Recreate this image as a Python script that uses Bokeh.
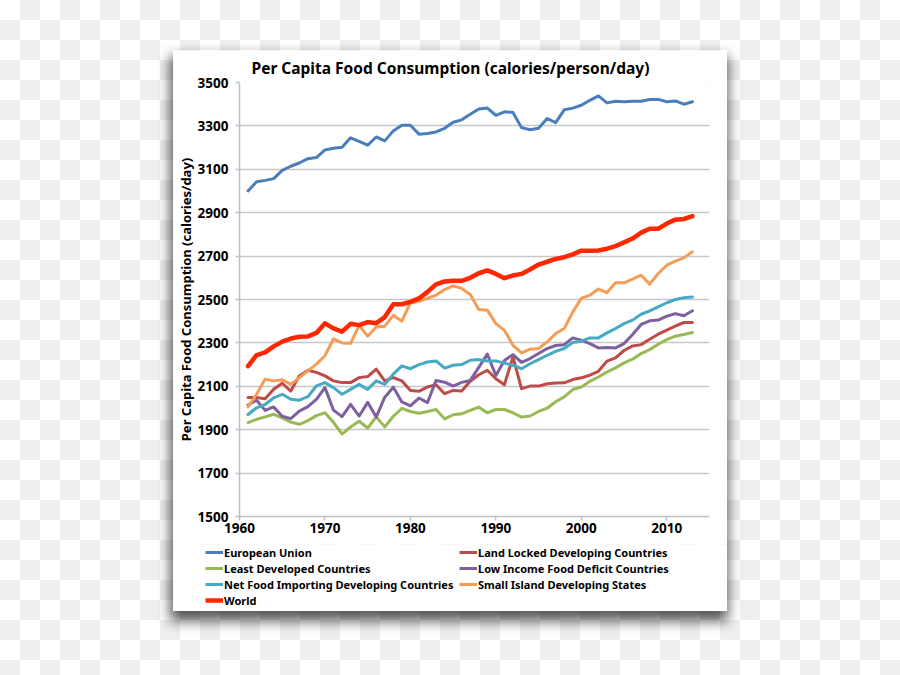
from bokeh.plotting import figure
from bokeh.models import Legend, LegendItem, FixedTicker, Range1d
from bokeh.layouts import column
from bokeh.embed import file_html
from bokeh.resources import INLINE

years = list(range(1961, 2014))

european_union = [3000, 3043, 3049, 3057, 3095, 3114, 3129, 3149, 3154, 3189,
                  3197, 3202, 3245, 3229, 3211, 3249, 3231, 3277, 3303, 3303,
                  3262, 3265, 3272, 3289, 3317, 3328, 3354, 3378, 3382, 3349,
                  3365, 3362, 3292, 3282, 3289, 3334, 3315, 3374, 3382, 3395,
                  3418, 3438, 3406, 3414, 3411, 3414, 3414, 3422, 3422, 3411,
                  3415, 3400, 3411]
land_locked = [2048, 2048, 2043, 2086, 2114, 2078, 2148, 2174, 2164, 2148,
               2125, 2117, 2117, 2140, 2145, 2179, 2125, 2140, 2125, 2081,
               2077, 2097, 2107, 2066, 2081, 2078, 2123, 2153, 2174, 2135,
               2107, 2235, 2089, 2101, 2101, 2112, 2115, 2116, 2131, 2139,
               2151, 2169, 2216, 2231, 2265, 2286, 2292, 2317, 2340, 2359,
               2377, 2394, 2394]
least_developed = [1933, 1948, 1959, 1971, 1954, 1935, 1925, 1942, 1965, 1978,
                   1934, 1880, 1913, 1939, 1908, 1959, 1913, 1962, 1998, 1984,
                   1976, 1984, 1993, 1950, 1969, 1973, 1989, 2004, 1978, 1993,
                   1993, 1978, 1958, 1963, 1984, 1999, 2029, 2051, 2085, 2097,
                   2123, 2143, 2166, 2185, 2208, 2225, 2251, 2269, 2294, 2315,
                   2331, 2339, 2348]
low_income = [2014, 2036, 1989, 2005, 1962, 1951, 1986, 2006, 2040, 2094,
              1990, 1960, 2017, 1963, 2026, 1958, 2050, 2096, 2028, 2010,
              2046, 2025, 2127, 2119, 2101, 2118, 2127, 2187, 2248, 2150,
              2219, 2246, 2210, 2228, 2251, 2274, 2288, 2292, 2323, 2312,
              2297, 2277, 2279, 2277, 2297, 2339, 2385, 2402, 2405, 2423,
              2435, 2425, 2448]
net_food_importing = [1970, 2001, 2016, 2047, 2063, 2040, 2036, 2052, 2102, 2117,
                      2094, 2063, 2086, 2109, 2086, 2125, 2109, 2156, 2194, 2181,
                      2200, 2212, 2217, 2184, 2197, 2200, 2220, 2223, 2217, 2217,
                      2207, 2197, 2181, 2204, 2223, 2243, 2261, 2274, 2302, 2308,
                      2323, 2323, 2346, 2366, 2389, 2405, 2432, 2448, 2466, 2485,
                      2500, 2508, 2511]
small_island = [2005, 2063, 2133, 2125, 2130, 2109, 2140, 2171, 2202, 2241,
                2319, 2300, 2298, 2381, 2331, 2373, 2377, 2427, 2400, 2485,
                2492, 2505, 2520, 2546, 2563, 2551, 2523, 2454, 2451, 2389,
                2358, 2289, 2254, 2271, 2274, 2304, 2343, 2366, 2443, 2505,
                2520, 2548, 2532, 2577, 2577, 2594, 2612, 2571, 2620, 2658,
                2677, 2692, 2720]
world = [2193, 2244, 2256, 2284, 2306, 2320, 2328, 2330, 2346, 2390,
         2367, 2352, 2388, 2382, 2396, 2391, 2419, 2478, 2478, 2489,
         2505, 2535, 2570, 2583, 2586, 2586, 2600, 2621, 2634, 2618,
         2598, 2611, 2618, 2638, 2661, 2674, 2687, 2695, 2708, 2725,
         2725, 2726, 2734, 2746, 2763, 2781, 2808, 2826, 2826, 2850,
         2868, 2871, 2884]

series_names = ["European Union", "Land Locked Developing Countries",
                "Least Developed Countries", "Low Income Food Deficit Countries",
                "Net Food Importing Developing Countries", "Small Island Developing States",
                "World"]
series_values = [european_union, land_locked, least_developed, low_income,
                 net_food_importing, small_island, world]
series_colors = ["#4a7ebb", "#be4b48", "#98b954", "#7d60a0", "#46aac5", "#f59d56", "#ff2600"]
series_widths = [3, 3, 3, 3, 3, 3, 4.5]

x_ticks = [1960, 1970, 1980, 1990, 2000, 2010]
y_ticks = [1500, 1700, 1900, 2100, 2300, 2500, 2700, 2900, 3100, 3300, 3500]

FONT = "Noto Sans"

# ---------------- main chart ----------------
p = figure(width=554, height=494,
           x_range=Range1d(1960, 2015), y_range=Range1d(1500, 3500),
           output_backend="svg", toolbar_location=None,
           min_border_left=64, min_border_right=18, min_border_top=32, min_border_bottom=28,
           background_fill_color="white", border_fill_color="white",
           outline_line_color=None)
p.frame_align = False

p.title.text = "Per Capita Food Consumption (calories/person/day)"
p.title.align = "left"
p.title.vertical_align = "top"
p.title.offset = 12
p.title.standoff = 4
p.title.text_font = FONT
p.title.text_font_size = "15.5px"
p.title.text_font_style = "bold"
p.title.text_color = "black"

for ax in (p.xaxis, p.yaxis):
    ax.axis_line_color = "#c0c0c0"
    ax.axis_line_width = 1.5
    ax.major_tick_line_color = "#c0c0c0"
    ax.major_tick_line_width = 1.5
    ax.major_tick_out = 4
    ax.major_tick_in = 0
    ax.minor_tick_line_color = None
    ax.major_label_text_font = FONT
    ax.major_label_text_font_style = "bold"
    ax.major_label_text_font_size = "13.5px"
    ax.major_label_text_color = "black"

p.xaxis.ticker = FixedTicker(ticks=x_ticks)
p.yaxis.ticker = FixedTicker(ticks=y_ticks)
p.xaxis.major_label_standoff = 2
p.yaxis.major_label_standoff = 7
p.yaxis.axis_label = "Per Capita Food Consumption (calories/day)"
p.yaxis.axis_label_text_font = FONT
p.yaxis.axis_label_text_font_style = "bold"
p.yaxis.axis_label_text_font_size = "13px"
p.yaxis.axis_label_text_color = "black"
p.yaxis.axis_label_standoff = 0

p.xgrid.grid_line_color = None
p.ygrid.grid_line_color = "#c8c8c8"
p.ygrid.grid_line_width = 1.5

for vals, col, w in zip(series_values, series_colors, series_widths):
    p.line(years, vals, line_color=col, line_width=w, line_join="round", line_cap="round")

# ---------------- legend strip ----------------
lg = figure(width=554, height=67, x_range=Range1d(0, 1), y_range=Range1d(0, 1),
            output_backend="svg", toolbar_location=None,
            x_axis_location=None, y_axis_location=None,
            min_border_left=0, min_border_right=0, min_border_top=0, min_border_bottom=0,
            background_fill_color="white", border_fill_color="white",
            outline_line_color=None)
lg.frame_align = False
lg.xgrid.grid_line_color = None
lg.ygrid.grid_line_color = None

nan = float("nan")
keys = []
for col, w in zip(series_colors, series_widths):
    keys.append(lg.line(x=[nan], y=[nan], line_color=col, line_width=w))

def make_legend(idx, loc):
    return Legend(items=[LegendItem(label=series_names[i], renderers=[keys[i]]) for i in idx],
                  location=loc, orientation="vertical",
                  label_text_font=FONT, label_text_font_style="bold",
                  label_text_font_size="11px", label_text_color="black",
                  glyph_width=18, glyph_height=16, label_height=16,
                  label_standoff=1, spacing=0, padding=0, margin=0,
                  border_line_color=None, background_fill_alpha=0)

lg.add_layout(make_legend([0, 2, 4, 6], (32, 3)))
lg.add_layout(make_legend([1, 3, 5], (286, 19)))

card = column(p, lg, spacing=0, margin=(50, 0, 0, 173),
              styles={"box-shadow": "-1px 8px 12px 2px rgba(0,0,0,0.65)"})

outer = column(card, width=900, height=675,
               styles={"background": "repeating-conic-gradient(#efefef 0% 25%, #ffffff 0% 50%) 0 0 / 40px 40px"})

open("out.html", "w").write(file_html(outer, INLINE))
